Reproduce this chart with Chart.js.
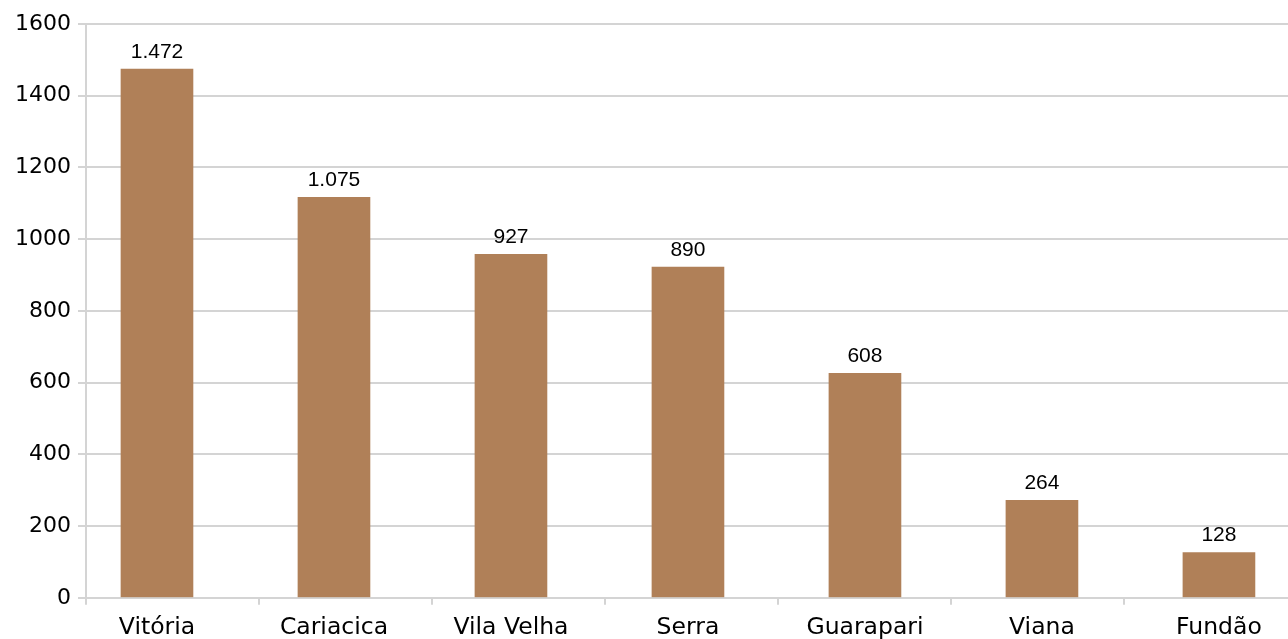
<!DOCTYPE html>
<html>
<head>
<meta charset="utf-8">
<script src="https://cdn.jsdelivr.net/npm/chart.js@4"></script>
<style>
  html, body { margin: 0; padding: 0; background: #ffffff; overflow: hidden; }
  #wrap { width: 1300px; height: 651px; }
</style>
</head>
<body>
<div id="wrap"><canvas id="c" width="1300" height="651"></canvas></div>
<script>
// ---- data ----
const categories = ['Vitória', 'Cariacica', 'Vila Velha', 'Serra', 'Guarapari', 'Viana', 'Fundão'];
const values = [1474, 1117, 958, 922, 626, 272, 126];          // bar heights as drawn
const valueLabels = ['1.472', '1.075', '927', '890', '608', '264', '128']; // printed labels
const yTicks = [0, 200, 400, 600, 800, 1000, 1200, 1400, 1600];

const gridColor = '#d4d4d4';
const barColor = '#b08058';

const valueLabelPlugin = {
  id: 'valueLabels',
  afterDatasetsDraw(chart) {
    const ctx = chart.ctx;
    const meta = chart.getDatasetMeta(0);
    ctx.save();
    ctx.font = '21px "Liberation Sans", Arial, sans-serif';
    ctx.fillStyle = '#000';
    ctx.textAlign = 'center';
    ctx.textBaseline = 'alphabetic';
    meta.data.forEach((bar, i) => {
      ctx.fillText(valueLabels[i], bar.x, bar.y - 11.5);
    });
    ctx.restore();
  }
};

new Chart(document.getElementById('c'), {
  type: 'bar',
  data: {
    datasets: [{
      data: categories.map((c, i) => ({ x: i, y: values[i] })),
      backgroundColor: barColor,
      borderWidth: 0,
      barThickness: 72,
      xAxisID: 'x',
      yAxisID: 'y'
    }]
  },
  options: {
    responsive: false,
    animation: false,
    layout: { padding: { top: 24, right: 3, left: 0, bottom: 0 } },
    plugins: { legend: { display: false }, tooltip: { enabled: false } },
    scales: {
      x: {
        type: 'linear',
        position: 'bottom',
        weight: 1,
        offset: false,
        min: -0.401,
        max: 6.441,
        grid: { display: false, offset: false, drawTicks: false, tickLength: 0 },
        border: { display: false },
        afterBuildTicks: (scale) => {
          scale.ticks = categories.map((c, i) => ({ value: i }));
        },
        ticks: {
          autoSkip: false,
          maxRotation: 0,
          padding: 9,
          color: '#000',
          font: { family: '"DejaVu Sans", sans-serif', size: 23.5 },
          callback: (v) => categories[v]
        }
      },
      x2: {
        type: 'category',
        labels: categories,
        position: 'bottom',
        weight: 0,
        offset: true,
        z: 1,
        grid: {
          display: true,
          offset: true,
          drawOnChartArea: false,
          drawTicks: true,
          tickLength: 7,
          color: gridColor,
          lineWidth: 2
        },
        border: { display: true, color: gridColor, width: 2 },
        ticks: { display: false }
      },
      y: {
        type: 'linear',
        min: 0,
        max: 1600,
        afterBuildTicks: (scale) => {
          scale.ticks = yTicks.map(v => ({ value: v }));
        },
        afterFit: (scale) => { scale.width = 86; },
        grid: { color: gridColor, lineWidth: 2, tickLength: 8, drawTicks: true },
        border: { display: true, color: gridColor, width: 2 },
        ticks: {
          padding: 7,
          color: '#000',
          font: { family: '"DejaVu Sans", sans-serif', size: 22 },
          callback: (v) => String(v)
        }
      }
    }
  },
  plugins: [valueLabelPlugin]
});
</script>
</body>
</html>
